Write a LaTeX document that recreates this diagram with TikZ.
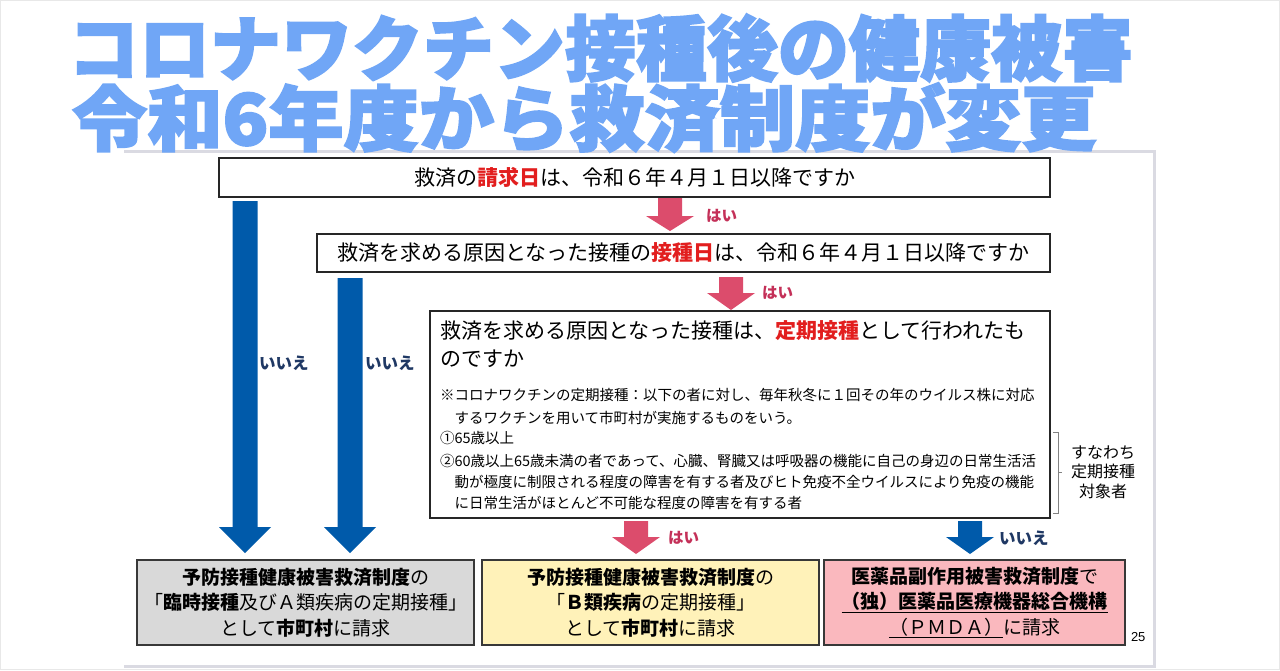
\documentclass[tikz,border=0pt]{standalone}
\usepackage{fontspec}
\setmainfont{Noto Sans CJK JP}
\newfontfamily\titlefont{Noto Sans CJK JP}[BoldFeatures={FakeBold=2.5}]
\newfontfamily\latinfont{Liberation Sans}
\definecolor{titleblue}{RGB}{112,166,246}
\definecolor{arrowblue}{RGB}{0,90,170}
\definecolor{arrowpink}{RGB}{220,76,108}
\definecolor{haired}{RGB}{196,48,88}
\definecolor{iienavy}{RGB}{31,56,100}
\definecolor{hred}{RGB}{226,30,30}
\definecolor{graybox}{RGB}{217,217,217}
\definecolor{yellowbox}{RGB}{255,242,185}
\definecolor{pinkbox}{RGB}{250,184,190}
\definecolor{slidegray}{RGB}{218,218,226}
\definecolor{edgegray}{RGB}{232,232,232}
\definecolor{bracketgray}{RGB}{130,130,130}
\newcommand{\hl}[1]{{\bfseries\color{hred}#1}}
\newcommand{\blockarrow}[7]{% x, ytop, yhead, ytip, shaft half, head half, color
  \fill[#7] (#1-#5,#2) -- (#1+#5,#2) -- (#1+#5,#3) -- (#1+#6,#3) -- (#1,#4) -- (#1-#6,#3) -- (#1-#5,#3) -- cycle;}
\tikzset{
  qbox/.style={draw=black!85, line width=1.2pt, fill=white},
  rbox/.style={draw=black!78, line width=1.6pt, align=center, font=\fontsize{19pt}{25.5pt}\selectfont},
  qtext/.style={anchor=base west, font=\fontsize{21pt}{25pt}\selectfont},
  smalltext/.style={anchor=base west, font=\fontsize{14.5pt}{17pt}\selectfont},
  hailabel/.style={anchor=west, text=haired, font=\bfseries\fontsize{15.5pt}{18pt}\selectfont},
  iielabel/.style={anchor=west, text=iienavy, font=\bfseries\fontsize{16.5pt}{19pt}\selectfont},
  titlestyle/.style={anchor=base west, text=titleblue, font=\titlefont\bfseries\fontsize{71pt}{75pt}\selectfont}
}
\begin{document}
\begin{tikzpicture}[x=1pt,y=-1pt,every node/.style={inner sep=0pt,outer sep=0pt}]
\useasboundingbox (0,0) rectangle (1280,670);
\fill[white] (0,0) rectangle (1280,670);
\draw[edgegray, line width=1pt] (0.5,0.5) rectangle (1279.5,669.5);
% slide frame
\draw[slidegray, line width=3pt] (124,151) -- (1154,151) -- (1154,666) -- (124,666);
% title
\node[titlestyle] (t1) at (68,75) {コロナワクチン接種後の健康被害};
\node[titlestyle, xscale=1.06] (t2) at (72,145) {令和6年度から救済制度が変更};
% question boxes
\node[qbox, minimum width=831pt, minimum height=39pt, font=\fontsize{21pt}{25pt}\selectfont] (q1) at (634.5,177.5) {救済の\hl{請求日}は、令和６年４月１日以降ですか};
\node[qbox, minimum width=733pt, minimum height=38pt, font=\fontsize{21pt}{25pt}\selectfont] (q2) at (683.5,253) {救済を求める原因となった接種の\hl{接種日}は、令和６年４月１日以降ですか};
\node[qbox, minimum width=620pt, minimum height=207pt] (q3) at (740,414.5) {};
\node[qtext] (q3a) at (440,338) {救済を求める原因となった接種は、\hl{定期接種}として行われたも};
\node[qtext] (q3b) at (440,366) {のですか};
\node[smalltext] (s1) at (440,400.5) {※コロナワクチンの定期接種：以下の者に対し、毎年秋冬に１回その年のウイルス株に対応};
\node[smalltext] (s2) at (454.5,423) {するワクチンを用いて市町村が実施するものをいう。};
\node[smalltext] (s3) at (440,443.5) {①65歳以上};
\node[smalltext] (s4) at (440,466.5) {②60歳以上65歳未満の者であって、心臓、腎臓又は呼吸器の機能に自己の身辺の日常生活活};
\node[smalltext] (s5) at (454.5,487.5) {動が極度に制限される程度の障害を有する者及びヒト免疫不全ウイルスにより免疫の機能};
\node[smalltext] (s6) at (454.5,508) {に日常生活がほとんど不可能な程度の障害を有する者};
% bracket
\draw[bracketgray, line width=1pt] (1053,432) -- (1058,432) -- (1058,513) -- (1053,513);
\draw[bracketgray, line width=1pt] (1058,472) -- (1062,472);
\node[align=center, font=\fontsize{16pt}{19.5pt}\selectfont] (sn) at (1103,472) {すなわち\\定期接種\\対象者};
% result boxes
\node[rbox, fill=graybox, minimum width=337pt, minimum height=85pt] (rg) at (305.5,602.5)
  {\textbf{予防接種健康被害救済制度}の\\「\textbf{臨時接種}及びＡ類疾病の定期接種」\\として\textbf{市町村}に請求};
\node[rbox, fill=yellowbox, minimum width=337pt, minimum height=85pt] (ry) at (650.5,602.5)
  {\textbf{予防接種健康被害救済制度}の\\「\textbf{Ｂ類疾病}の定期接種」\\として\textbf{市町村}に請求};
\node[rbox, fill=pinkbox, minimum width=301pt, minimum height=85pt] (rp) at (974.5,602.5)
  {\textbf{医薬品副作用被害救済制度}で\\\underline{\textbf{（独）医薬品医療機器総合機構}}\\\underline{（ＰＭＤＡ）}に請求};
\node[font=\latinfont\fontsize{13pt}{15pt}\selectfont, anchor=west] (pn) at (1131,637) {25};
% arrows
\blockarrow{245}{201}{527}{553}{12.5}{26}{arrowblue}
\blockarrow{350}{278}{527}{553}{12.5}{26}{arrowblue}
\blockarrow{670}{198}{216}{231}{12}{24}{arrowpink}
\blockarrow{731}{277}{293}{310}{12}{24}{arrowpink}
\blockarrow{636}{521}{537}{554}{12}{24}{arrowpink}
\blockarrow{970}{521}{537}{554}{12}{24}{arrowblue}
% arrow labels
\node[iielabel] (n1) at (259,363) {いいえ};
\node[iielabel] (n2) at (365,363) {いいえ};
\node[hailabel] (y1) at (706,216) {はい};
\node[hailabel] (y2) at (762,293) {はい};
\node[hailabel] (y3) at (668,538) {はい};
\node[iielabel] (n3) at (999,538) {いいえ};
\end{tikzpicture}
\end{document}
